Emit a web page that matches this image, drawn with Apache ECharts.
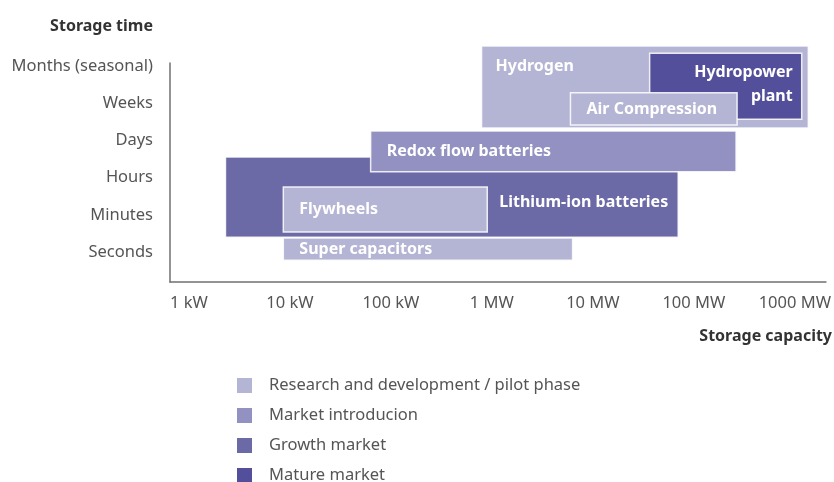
<!DOCTYPE html>
<html>
<head>
<meta charset="utf-8">
<script src="https://cdn.jsdelivr.net/npm/echarts@6/dist/echarts.min.js"></script>
<style>
  html, body { margin: 0; padding: 0; background: #fff; }
  #chart { width: 834px; height: 482px; }
</style>
</head>
<body>
<div id="chart"></div>
<script>
// technologies, drawn in this order (later ones sit on top)
const technologies = ["Lithium-ion batteries", "Flywheels", "Super capacitors", "Redox flow batteries", "Hydrogen", "Hydropower\nplant", "Air Compression"];
const stageOf = [2, 0, 0, 1, 0, 3, 0];
// storage capacity range in kW
const capacityFrom = [2.3, 8.6, 8.6, 63, 790, 36500, 6000];
const capacityTo = [70000, 900, 6300, 262000, 1360000, 1170000, 268000];
// storage time range, 0 = seconds ... 5 = months
const timeFrom = [0.40, 0.54, -0.22, 2.16, 3.34, 3.58, 3.42];
const timeTo = [2.56, 1.75, 0.38, 3.26, 5.55, 5.36, 4.29];

const timeLabels = ["Seconds", "Minutes", "Hours", "Days", "Weeks", "Months (seasonal)"];
const capacityTicks = [1, 10, 100, 1000, 10000, 100000, 1000000];
const capacityLabels = ["1 kW", "10 kW", "100 kW", "1 MW", "10 MW", "100 MW", "1000 MW"];
const stages = ["Research and development / pilot phase", "Market introducion", "Growth market", "Mature market"];
const stageColors = ["#b4b4d4", "#9291c1", "#6b69a6", "#534f9a"];

const FONT = '"Noto Sans", sans-serif';

// where the white label sits inside its box
const labelStyle = {
  "Lithium-ion batteries": { align: "right", dx: -10, dy: 5 },
  "Hydrogen": { align: "left", dx: 14, top: 20 },
  "Hydropower\nplant": { align: "right", dx: -9, top: 31 }
};

const boxes = technologies.map((t, i) => [
  Math.log10(capacityFrom[i]), Math.log10(capacityTo[i]), timeFrom[i], timeTo[i]
]);

function renderBox(params, api) {
  const i = params.dataIndex;
  const lt = api.coord([api.value(0), api.value(3)]);
  const rb = api.coord([api.value(1), api.value(2)]);
  const name = technologies[i];
  const lab = labelStyle[name] || {};
  const align = lab.align || "left";
  const tx = align === "left" ? lt[0] + (lab.dx != null ? lab.dx : 16) : rb[0] + lab.dx;
  const ty = lab.top != null ? lt[1] + lab.top : (lt[1] + rb[1]) / 2 + (lab.dy || 0);
  return {
    type: "group",
    children: [
      {
        type: "rect",
        shape: { x: lt[0], y: lt[1], width: rb[0] - lt[0], height: rb[1] - lt[1] },
        style: { fill: stageColors[stageOf[i]], stroke: "rgba(255,255,255,0.85)", lineWidth: 1.5 }
      },
      {
        type: "text",
        x: tx,
        y: ty,
        style: {
          text: name, fill: "#fff", font: "bold 16px " + FONT,
          align: align, verticalAlign: "middle", lineHeight: 24
        }
      }
    ]
  };
}

const chart = echarts.init(document.getElementById("chart"));

chart.setOption({
  animation: false,
  grid: { left: 170, top: 63, width: 658, height: 219 },
  xAxis: {
    type: "value",
    min: -0.1876,
    max: 6.308,
    axisLine: { show: true, onZero: false, lineStyle: { color: "#707070", width: 1.5 } },
    axisTick: { show: false },
    splitLine: { show: false },
    axisLabel: {
      customValues: capacityTicks.map(v => Math.log10(v)),
      formatter: v => capacityLabels[Math.round(v)],
      color: "#555", fontSize: 16.5, fontFamily: FONT, margin: 13
    }
  },
  yAxis: {
    type: "value",
    min: -0.809,
    max: 5.094,
    axisLine: { show: true, onZero: false, lineStyle: { color: "#707070", width: 1.5 } },
    axisTick: { show: false },
    splitLine: { show: false },
    axisLabel: {
      customValues: timeLabels.map((t, i) => i),
      formatter: v => timeLabels[Math.round(v)],
      color: "#555", fontSize: 16.5, fontFamily: FONT, margin: 17
    }
  },
  legend: {
    orient: "vertical",
    left: 232,
    top: 372,
    height: 120,
    itemWidth: 15,
    itemHeight: 15,
    itemGap: 13,
    icon: "rect",
    selectedMode: false,
    data: stages,
    textStyle: { color: "#555", fontSize: 16.5, fontFamily: FONT, padding: [0, 0, 0, 12] }
  },
  graphic: [
    {
      type: "text", x: 153, y: 26,
      style: { text: "Storage time", align: "right", verticalAlign: "middle", font: "bold 16px " + FONT, fill: "#333" }
    },
    {
      type: "text", x: 832, y: 336,
      style: { text: "Storage capacity", align: "right", verticalAlign: "middle", font: "bold 16px " + FONT, fill: "#333" }
    }
  ],
  series: [
    {
      type: "custom",
      name: "boxes",
      clip: false,
      renderItem: renderBox,
      encode: { x: [0, 1], y: [2, 3] },
      data: boxes
    }
  ].concat(stages.map((s, k) => ({
    type: "custom",
    name: s,
    data: [],
    renderItem: () => null,
    itemStyle: { color: stageColors[k] }
  })))
});
</script>
</body>
</html>
